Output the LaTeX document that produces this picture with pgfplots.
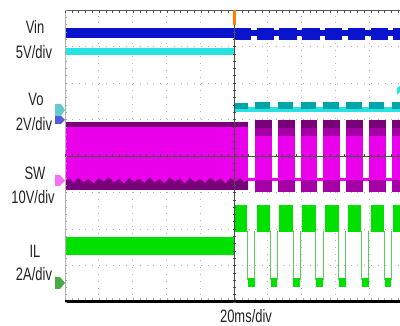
\documentclass[border=0pt]{standalone}
\usepackage{pgfplots}
\pgfplotsset{compat=1.18}
\usepackage{fontspec}
\setmainfont{Liberation Sans}[FakeStretch=0.72]
\definecolor{vin}{RGB}{10,20,205}
\definecolor{voc}{RGB}{40,225,225}
\definecolor{vot}{RGB}{0,165,170}
\definecolor{swm}{RGB}{235,0,235}
\definecolor{swd}{RGB}{120,0,120}
\definecolor{swx}{RGB}{165,0,165}
\definecolor{ilg}{RGB}{0,225,0}
\definecolor{ilt}{RGB}{90,205,90}
\definecolor{txt}{RGB}{35,35,35}
\newcommand\R[5]{\addplot[fill=#1,draw=none,forget plot] coordinates {(#2,#4) (#3,#4) (#3,#5) (#2,#5)} -- cycle;}
\begin{document}
\begin{tikzpicture}[x=1pt,y=1pt]
\useasboundingbox (0,0) rectangle (400,326);
\begin{axis}[at={(65pt,24pt)}, anchor=south west, scale only axis,
  width=335pt, height=292pt, xmin=0, xmax=198.4, ymin=-4, ymax=4,
  axis line style={draw=none}, xtick={20,40,...,180}, ytick={-3,-2,-1,1,2,3},
  xticklabels={}, yticklabels={}, major tick length=0pt,
  grid=major, major grid style={gray!60, line width=0.7pt, dash pattern=on 0.8pt off 6pt},
  clip=true]
% ---------- SW (magenta) ----------
\addplot[swm, line width=2.6pt, forget plot] coordinates {(108.5,-0.64) (198.4,-0.64)};
\R{swm}{0}{108.5}{-0.93}{0.93}
\R{swd}{0}{108.5}{0.80}{0.93}
\addplot[fill=swd, draw=none, forget plot] coordinates {(0,-0.93) (0,-0.68) (3,-0.62) (5,-0.74) (8,-0.60) (11,-0.72) (14,-0.63) (17,-0.75) (20,-0.61) (23,-0.70) (26,-0.58) (29,-0.73) (32,-0.63) (35,-0.76) (38,-0.60) (41,-0.71) (44,-0.62) (47,-0.74) (50,-0.59) (53,-0.72) (56,-0.64) (59,-0.75) (62,-0.60) (65,-0.70) (68,-0.62) (71,-0.76) (74,-0.60) (77,-0.72) (80,-0.63) (83,-0.74) (86,-0.59) (89,-0.71) (92,-0.62) (95,-0.75) (98,-0.61) (101,-0.70) (104,-0.60) (106,-0.72) (108.5,-0.66) (108.5,-0.93)} -- cycle;
\R{swm}{112.5}{122.5}{-1.0}{0.99}
\R{swm}{126}{136}{-1.0}{0.99}
\R{swm}{139.5}{149.5}{-1.0}{0.99}
\R{swm}{153}{163}{-1.0}{0.99}
\R{swm}{166.5}{176.5}{-1.0}{0.99}
\R{swm}{180}{190}{-1.0}{0.99}
\R{swm}{193.5}{198.4}{-1.0}{0.99}
\R{swx}{112.5}{122.5}{0.55}{0.99}
\R{swx}{126}{136}{0.55}{0.99}
\R{swx}{139.5}{149.5}{0.55}{0.99}
\R{swx}{153}{163}{0.55}{0.99}
\R{swx}{166.5}{176.5}{0.55}{0.99}
\R{swx}{180}{190}{0.55}{0.99}
\R{swx}{193.5}{198.4}{0.55}{0.99}
\R{swd}{112.5}{122.5}{0.78}{0.99}
\R{swd}{126}{136}{0.78}{0.99}
\R{swd}{139.5}{149.5}{0.78}{0.99}
\R{swd}{153}{163}{0.78}{0.99}
\R{swd}{166.5}{176.5}{0.78}{0.99}
\R{swd}{180}{190}{0.78}{0.99}
\R{swd}{193.5}{198.4}{0.78}{0.99}
\R{swx}{112.5}{122.5}{-1.0}{-0.66}
\R{swx}{126}{136}{-1.0}{-0.66}
\R{swx}{139.5}{149.5}{-1.0}{-0.66}
\R{swx}{153}{163}{-1.0}{-0.66}
\R{swx}{166.5}{176.5}{-1.0}{-0.66}
\R{swx}{180}{190}{-1.0}{-0.66}
\R{swx}{193.5}{198.4}{-1.0}{-0.66}
% ---------- IL (green) ----------
\R{ilg}{0}{100}{-2.71}{-2.22}
\R{ilg}{100}{108}{-2.08}{-1.34}
\R{ilg}{113.5}{121.5}{-2.08}{-1.34}
\R{ilg}{127}{135}{-2.08}{-1.34}
\R{ilg}{140.5}{148.5}{-2.08}{-1.34}
\R{ilg}{154}{162}{-2.08}{-1.34}
\R{ilg}{167.5}{175.5}{-2.08}{-1.34}
\R{ilg}{181}{189}{-2.08}{-1.34}
\R{ilg}{194.5}{198.4}{-2.08}{-1.34}
\addplot[ilt, line width=0.7pt, forget plot, unbounded coords=jump] coordinates {
 (108,-2.05) (108,-3.4) (nan,nan) (112.3,-3.4) (112.3,-2.05) (nan,nan)
 (121.5,-2.05) (121.5,-3.4) (nan,nan) (125.8,-3.4) (125.8,-2.05) (nan,nan)
 (135,-2.05) (135,-3.4) (nan,nan) (139.3,-3.4) (139.3,-2.05) (nan,nan)
 (148.5,-2.05) (148.5,-3.4) (nan,nan) (152.8,-3.4) (152.8,-2.05) (nan,nan)
 (162,-2.05) (162,-3.4) (nan,nan) (166.3,-3.4) (166.3,-2.05) (nan,nan)
 (175.5,-2.05) (175.5,-3.4) (nan,nan) (179.8,-3.4) (179.8,-2.05) (nan,nan)
 (189,-2.05) (189,-3.4) (nan,nan) (193.3,-3.4) (193.3,-2.05)};
\R{ilg}{108.3}{112.3}{-3.59}{-3.34}
\R{ilg}{121.8}{125.8}{-3.59}{-3.34}
\R{ilg}{135.3}{139.3}{-3.59}{-3.34}
\R{ilg}{148.8}{152.8}{-3.59}{-3.34}
\R{ilg}{162.3}{166.3}{-3.59}{-3.34}
\R{ilg}{175.8}{179.8}{-3.59}{-3.34}
\R{ilg}{189.3}{193.3}{-3.59}{-3.34}
% ---------- Vo (cyan) ----------
\R{voc}{0}{100}{2.77}{2.96}
\R{voc}{100}{198.4}{1.21}{1.34}
\R{vot}{100.5}{108.2}{1.30}{1.45}
\R{vot}{112.5}{121.7}{1.30}{1.47}
\R{vot}{126}{135.2}{1.30}{1.47}
\R{vot}{139.5}{148.7}{1.30}{1.47}
\R{vot}{153}{162.2}{1.30}{1.47}
\R{vot}{166.5}{175.7}{1.30}{1.47}
\R{vot}{180}{189.2}{1.30}{1.47}
\R{vot}{193.5}{198.4}{1.30}{1.47}
% ---------- Vin (blue) ----------
\R{vin}{0}{100}{3.23}{3.51}
\R{vin}{100}{198.4}{3.29}{3.45}
\R{vin}{100}{110.3}{3.18}{3.51}
\R{vin}{113.5}{123.8}{3.18}{3.51}
\R{vin}{127}{137.3}{3.18}{3.51}
\R{vin}{140.5}{150.8}{3.18}{3.51}
\R{vin}{154}{164.3}{3.18}{3.51}
\R{vin}{167.5}{177.8}{3.18}{3.51}
\R{vin}{181}{191.3}{3.18}{3.51}
\R{vin}{194.5}{198.4}{3.18}{3.51}
% ---------- centre lines ----------
\addplot[gray!60!black, line width=0.6pt, forget plot] coordinates {(100,-4) (100,4)};
\addplot[gray!60!black, line width=0.6pt, forget plot] coordinates {(0,0) (198.4,0)};
\end{axis}
% frame pieces
\draw[gray!70!black, line width=0.9pt] (65,316) -- (400,316);
\draw[gray!60, line width=0.7pt] (65,24) -- (65,316);
\draw[black, line width=3pt] (65,24.5) -- (400,24.5);
\foreach \i in {0,...,49} {\draw[gray!60!black, line width=0.5pt] ({65+\i*6.8},316) -- ({65+\i*6.8},313);}
\foreach \i in {0,...,49} {\draw[gray!70, line width=0.5pt] ({65+\i*6.8},26) -- ({65+\i*6.8},28);}
\foreach \i in {0,...,40} {\draw[gray!70, line width=0.5pt] (65,{24+\i*7.3}) -- (67,{24+\i*7.3});}
\foreach \i in {0,...,40} {\draw[gray!60!black, line width=0.5pt] (232.5,{24+\i*7.3}) -- (235.5,{24+\i*7.3});}
\foreach \i in {0,...,49} {\draw[gray!60!black, line width=0.5pt] ({65+\i*6.8},168.5) -- ({65+\i*6.8},171.5);}
\draw[gray!60!black, line width=0.7pt] (234,26) -- (234,33);
% trigger marker
\fill[orange] (232.5,301) rectangle (235.5,316);
% channel markers
\fill[vin!70] (55,202) -- (61,202) -- (65,206) -- (61,210) -- (55,210) -- cycle;
\fill[vot!60] (55,210) -- (61,210) -- (65,216) -- (61,222) -- (55,222) -- cycle;
\fill[swm!55] (55,140) -- (60,140) -- (65,145.5) -- (60,151) -- (55,151) -- cycle;
\fill[ilg!45!gray] (55,37) -- (60,37) -- (65,43) -- (60,49) -- (55,49) -- cycle;
\fill[voc] (397,231) -- (400,234) -- (400,240) -- (397,238) -- cycle;
% labels
\begin{scope}[every node/.style={text=txt, font=\fontsize{18}{20}\selectfont, inner sep=0pt, anchor=base}]
\node at (35,292) {Vin};
\node at (34,267) {5V/div};
\node at (36,220) {Vo};
\node at (34,195) {2V/div};
\node at (35,146) {SW};
\node at (33,122) {10V/div};
\node at (35,68) {IL};
\node at (34,45) {2A/div};
\node at (246,3) {20ms/div};
\end{scope}
\end{tikzpicture}
\end{document}
